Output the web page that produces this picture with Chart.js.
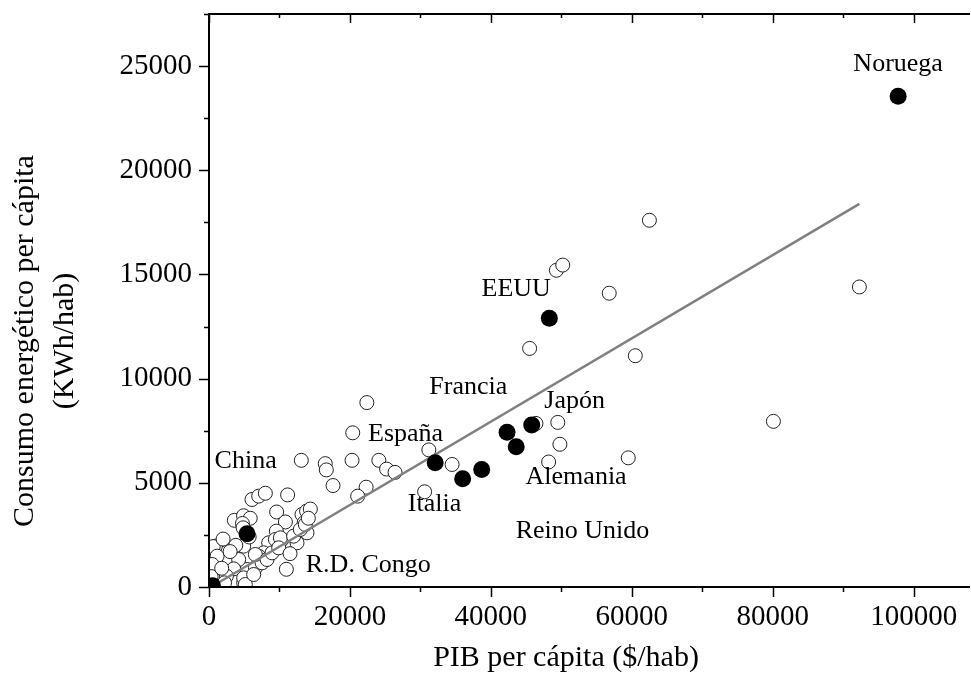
<!DOCTYPE html>
<html lang="es">
<head>
    <meta charset="UTF-8">
    <title>Consumo energético vs PIB per cápita</title>
    <script src="https://cdn.jsdelivr.net/npm/chart.js"></script>
    <style>
        body {
            margin: 0;
            background-color: #ffffff;
        }
        #wrap {
            width: 971px;
            height: 682px;
        }
    </style>
</head>
<body>
    <div id="wrap">
        <canvas id="chart" width="971" height="682"></canvas>
    </div>
    <script>
        // paises sin nombre (circulos abiertos)
        const openX = [62500, 56800, 92300, 60500, 80100, 59500, 49300, 50200, 45500, 49500,
            49800, 48200, 34500, 46400, 22400, 20400, 31200, 30600, 13100, 16500,
            16650, 20300, 24100, 25200, 26400, 17600, 22300, 21100, 6100, 7050,
            8000, 11160, 9600, 10840, 13200, 13850, 14380, 13500, 3600, 4900,
            5850, 4750, 4840, 9560, 10370, 12490, 13910, 8470, 7760, 10980,
            7050, 4920, 3500, 1620, 910, 670, 3040, 4920, 5400, 6580,
            2800, 4210, 3500, 1380, 2470, 4920, 5160, 6340, 7530, 6580,
            8240, 8950, 9420, 10130, 9890, 12010, 12960, 13670, 600, 1150,
            440, 300, 1800, 2200, 3800, 5700, 11500, 14100, 3000, 2000];
        const openY = [17600, 14100, 14400, 11100, 7950, 6200, 15200, 15450, 11450, 7900,
            6850, 6000, 5880, 7850, 8850, 7400, 6580, 4570, 6080, 5920,
            5620, 6080, 6080, 5660, 5500, 4870, 4790, 4360, 4200, 4360,
            4500, 4420, 3600, 3120, 3480, 3640, 3740, 3080, 3200, 3420,
            3300, 3050, 2840, 2680, 2280, 2120, 2600, 2120, 1640, 850,
            1480, 1960, 1320, 1640, 1960, 1000, 840, 200, 840, 920,
            1320, 1320, 870, 360, 520, 440, 120, 600, 1160, 1560,
            1320, 1640, 2280, 2360, 1880, 2440, 2760, 3000, 1940, 1480,
            1080, 500, 900, 200, 2000, 2400, 1600, 3300, 1700, 2300];

        // paises destacados (circulos negros)
        const filledNames = ['Noruega', 'EEUU', 'Japón', 'Francia', 'Alemania', 'Reino Unido', 'Italia', 'España', 'China', 'R.D. Congo'];
        const filledX = [97800, 48300, 45800, 42300, 43600, 38700, 36000, 32100, 5400, 500];
        const filledY = [23550, 12900, 7780, 7430, 6730, 5640, 5200, 5960, 2560, 60];

        // recta de ajuste
        const lineX = [600, 92300];
        const lineY = [60, 18390];

        // etiquetas de texto
        const labelNames = ['Noruega', 'EEUU', 'Francia', 'Japón', 'España', 'Italia', 'Alemania', 'Reino Unido', 'China', 'R.D. Congo'];
        const labelX = [97800, 43600, 36800, 51900, 27900, 32000, 52100, 53000, 5200, 22600];
        const labelY = [25070, 14310, 9570, 8900, 7320, 3960, 5250, 2660, 6020, 1030];

        // marcas de los ejes
        const xTicks = [0, 20000, 40000, 60000, 80000, 100000];
        const yTicks = [0, 5000, 10000, 15000, 20000, 25000];

        const xTitle = 'PIB per cápita ($/hab)';
        const yTitle = ['Consumo energético per cápita', '(KWh/hab)'];

        const serif = "'Liberation Serif', 'Times New Roman', serif";

        const toPoints = (xs, ys) => xs.map((x, i) => ({ x: x, y: ys[i] }));

        // ejes, marcas, etiquetas y titulos
        const decorPlugin = {
            id: 'decor',
            afterDraw(chart) {
                const ctx = chart.ctx;
                const a = chart.chartArea;
                const xs = chart.scales.x;
                const ys = chart.scales.y;
                ctx.save();

                // etiquetas de paises
                ctx.fillStyle = '#000';
                ctx.font = '26px ' + serif;
                ctx.textAlign = 'center';
                ctx.textBaseline = 'middle';
                labelNames.forEach((name, i) => {
                    ctx.fillText(name, xs.getPixelForValue(labelX[i]), ys.getPixelForValue(labelY[i]));
                });

                // lineas de los ejes
                ctx.strokeStyle = '#000';
                ctx.lineWidth = 2;
                ctx.beginPath();
                ctx.moveTo(a.left, a.top);
                ctx.lineTo(a.left, a.bottom);
                ctx.moveTo(a.left - 1, a.bottom);
                ctx.lineTo(a.right, a.bottom);
                ctx.moveTo(a.left - 1, a.top);
                ctx.lineTo(a.right, a.top);
                ctx.stroke();

                // marcas (mayores y menores)
                ctx.lineWidth = 1.5;
                ctx.beginPath();
                for (let v = 0; v <= xs.max; v += 10000) {
                    const px = Math.round(xs.getPixelForValue(v)) + 0.5;
                    const len = xTicks.includes(v) ? 10 : 5;
                    ctx.moveTo(px, a.bottom);
                    ctx.lineTo(px, a.bottom + len);
                    ctx.moveTo(px, a.top);
                    ctx.lineTo(px, a.top + len - 1);
                }
                for (let v = 0; v <= ys.max; v += 2500) {
                    const py = Math.round(ys.getPixelForValue(v)) + 0.5;
                    const len = yTicks.includes(v) ? 10 : 5;
                    ctx.moveTo(a.left, py);
                    ctx.lineTo(a.left - len, py);
                }
                ctx.stroke();

                // titulos de los ejes
                ctx.font = '30px ' + serif;
                ctx.textAlign = 'center';
                ctx.textBaseline = 'middle';
                ctx.fillText(xTitle, 566, 658);
                ctx.translate(25, chart.height / 2);
                ctx.rotate(-Math.PI / 2);
                ctx.fillText(yTitle[0], 0, 0);
                ctx.fillText(yTitle[1], 0, 40);
                ctx.restore();
            }
        };

        const config = {
            type: 'scatter',
            data: {
                datasets: [
                    {
                        label: 'Países',
                        data: toPoints(openX, openY),
                        pointRadius: 7,
                        pointBorderWidth: 1,
                        pointBorderColor: '#222',
                        pointBackgroundColor: '#fff',
                        clip: 0,
                        order: 3
                    },
                    {
                        type: 'line',
                        label: 'Ajuste',
                        data: toPoints(lineX, lineY),
                        borderColor: '#808080',
                        borderWidth: 2.5,
                        pointRadius: 0,
                        fill: false,
                        clip: 0,
                        order: 2
                    },
                    {
                        label: 'Destacados',
                        data: toPoints(filledX, filledY),
                        pointRadius: 8.5,
                        pointBorderWidth: 0,
                        pointBackgroundColor: '#000',
                        clip: 0,
                        order: 1
                    }
                ]
            },
            options: {
                responsive: false,
                animation: false,
                layout: {
                    autoPadding: false,
                    padding: { left: 0, right: 1, top: 14, bottom: 0 }
                },
                plugins: {
                    legend: { display: false },
                    tooltip: { enabled: false }
                },
                scales: {
                    x: {
                        type: 'linear',
                        min: 0,
                        max: 108000,
                        grid: { display: false },
                        border: { display: false },
                        afterBuildTicks: s => { s.ticks = xTicks.map(v => ({ value: v })); },
                        ticks: {
                            padding: 5,
                            color: '#000',
                            font: { family: serif, size: 29 },
                            maxRotation: 0,
                            autoSkip: false,
                            callback: v => String(v)
                        },
                        afterFit: s => {
                            s.height = 95;
                            s.paddingLeft = 0;
                            s.paddingRight = 0;
                        }
                    },
                    y: {
                        type: 'linear',
                        min: 0,
                        max: 27500,
                        grid: { display: false },
                        border: { display: false },
                        afterBuildTicks: s => { s.ticks = yTicks.map(v => ({ value: v })); },
                        ticks: {
                            padding: 9,
                            color: '#000',
                            font: { family: serif, size: 29 },
                            autoSkip: false,
                            callback: v => String(v)
                        },
                        afterFit: s => {
                            s.width = 209;
                            s.paddingTop = 0;
                            s.paddingBottom = 0;
                        }
                    }
                }
            },
            plugins: [decorPlugin]
        };

        new Chart(document.getElementById('chart'), config);
    </script>
</body>
</html>
